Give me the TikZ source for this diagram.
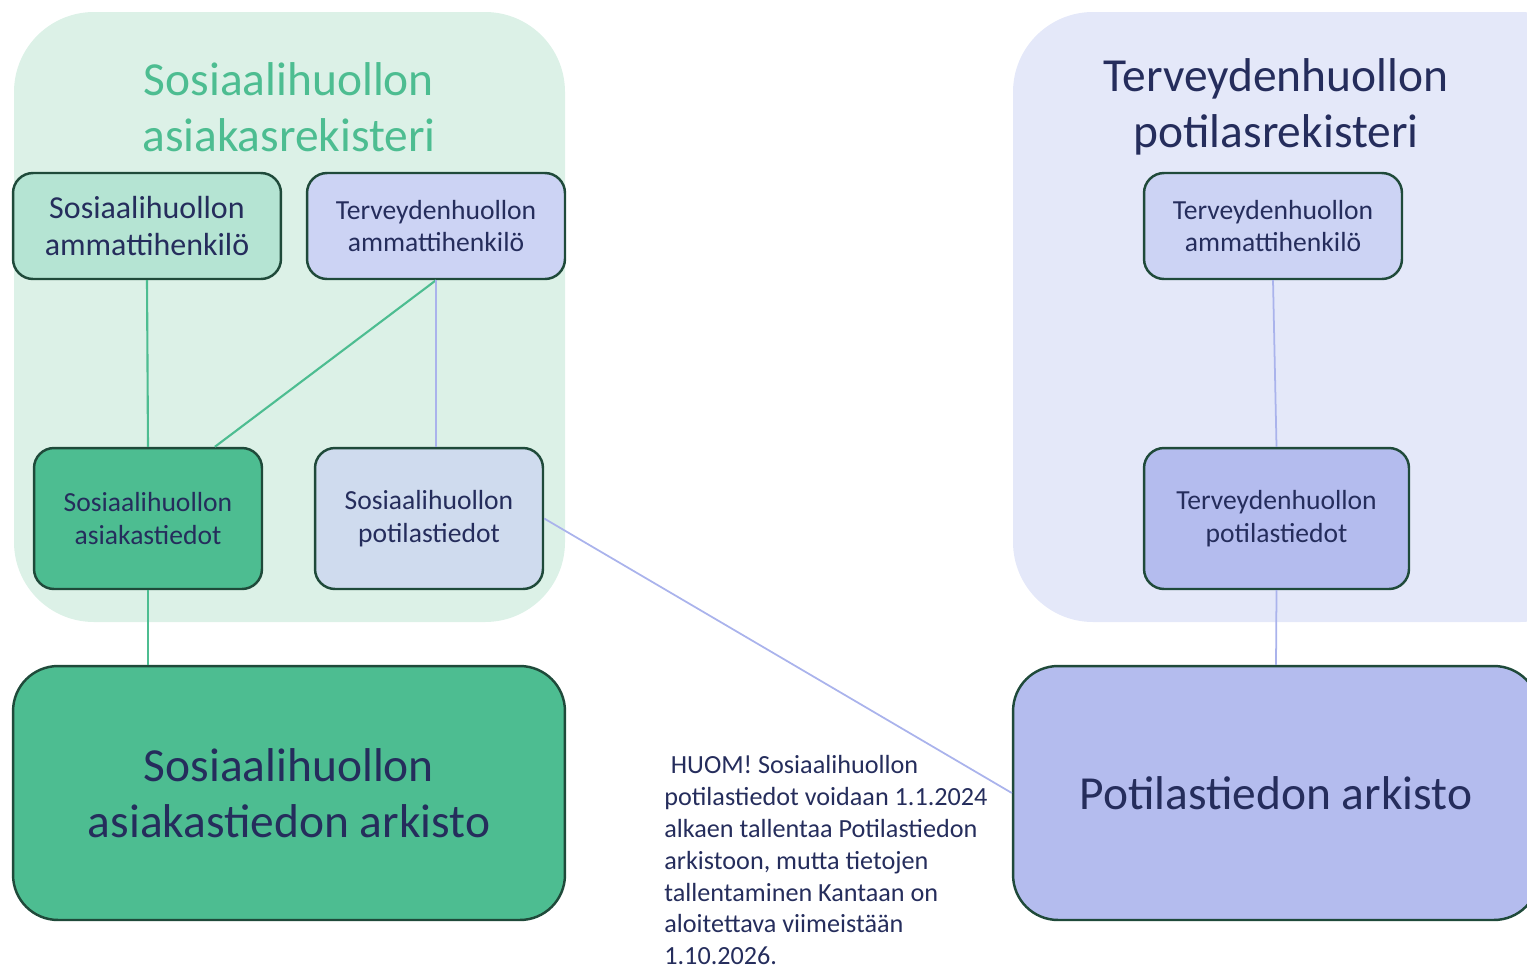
\documentclass[tikz,border=0pt]{standalone}
\usepackage{fontspec}
\setmainfont{Carlito}
\definecolor{ink}{HTML}{252D5C}
\definecolor{edge}{HTML}{1F4A3A}
\definecolor{sosbg}{HTML}{DCF1E7}
\definecolor{terbg}{HTML}{E4E8F9}
\definecolor{soslight}{HTML}{B5E4D3}
\definecolor{sosdark}{HTML}{4DBD91}
\definecolor{terlight}{HTML}{CCD3F4}
\definecolor{terdark}{HTML}{B4BCEE}
\definecolor{sospat}{HTML}{CFDBEE}
\definecolor{sosline}{HTML}{4DBD91}
\definecolor{terline}{HTML}{AAB3EC}
\begin{document}
\begin{tikzpicture}[x=0.02cm,y=-0.02cm]
\tikzstyle{every node}+=[inner sep=0pt, text=ink, align=center]
\tikzstyle{box}=[draw=edge, line width=1.4pt, rounded corners=0.4cm]
\tikzstyle{bigbox}=[draw=edge, line width=1.4pt, rounded corners=0.9cm, minimum width=11.04cm, minimum height=5.08cm, font=\fontsize{27}{31.7}\selectfont]
\tikzstyle{smalltxt}=[font=\fontsize{15.7}{18.7}\selectfont]
\tikzstyle{sline}=[draw=sosline, line width=1.2pt]
\tikzstyle{tline}=[draw=terline, line width=1pt]
\useasboundingbox (0,0) rectangle (1527,967);
\fill [sosbg, rounded corners=1.6cm] (14,12) rectangle (565,622);
\fill [terbg, rounded corners=1.6cm] (1013,12) rectangle (1600,622);
\node [text=sosline, font=\fontsize{27}{31.7}\selectfont] (sosreg) at (289,107) {Sosiaalihuollon\\asiakasrekisteri};
\node [font=\fontsize{27}{31.7}\selectfont] (terreg) at (1276,107) {Terveydenhuollon\\potilasrekisteri};
\node [box, fill=soslight, minimum width=5.36cm, minimum height=2.12cm, font=\fontsize{18.2}{21.5}\selectfont] (sosamm) at (147,226) {Sosiaalihuollon\\ammattihenkilö};
\node [box, smalltxt, fill=terlight, minimum width=5.16cm, minimum height=2.12cm] (teramm) at (436,226) {Terveydenhuollon\\ammattihenkilö};
\node [box, smalltxt, fill=sosdark, minimum width=4.56cm, minimum height=2.82cm] (sosasi) at (148,518.5) {Sosiaalihuollon\\asiakastiedot};
\node [box, smalltxt, fill=sospat, minimum width=4.56cm, minimum height=2.82cm] (sospot) at (429,518.5) {Sosiaalihuollon\\potilastiedot};
\node [bigbox, fill=sosdark] (sosark) at (289,793) {Sosiaalihuollon\\asiakastiedon arkisto};
\node [box, smalltxt, fill=terlight, minimum width=5.16cm, minimum height=2.12cm] (terammr) at (1273,226) {Terveydenhuollon\\ammattihenkilö};
\node [box, smalltxt, fill=terdark, minimum width=5.3cm, minimum height=2.82cm] (terpot) at (1276.5,518.5) {Terveydenhuollon\\potilastiedot};
\node [bigbox, fill=terdark, minimum width=10.52cm] (potark) at (1276,793) {Potilastiedon arkisto};
\node [anchor=north west, align=left, font=\fontsize{14.9}{18.15}\selectfont] (huom) at (664,755) {\hspace*{0.25em}HUOM! Sosiaalihuollon\\potilastiedot voidaan 1.1.2024\\alkaen tallentaa Potilastiedon\\arkistoon, mutta tietojen\\tallentaminen Kantaan on\\aloitettava viimeistään\\1.10.2026.};
\draw [sline] (sosamm.south) -- (sosasi.north);
\draw [sline] (teramm.south) -- (sosasi.47);
\draw [tline] (teramm.south) -- (teramm.south |- sospot.north);
\draw [sline] (sosasi.south) -- (sosasi.south |- sosark.north);
\draw [tline] (sospot.east) -- (potark.west);
\draw [tline] (terammr.south) -- (terpot.north);
\draw [tline] (terpot.south) -- (potark.north);
\end{tikzpicture}
\end{document}
